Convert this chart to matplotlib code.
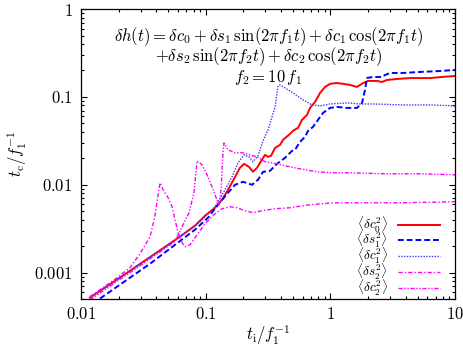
import matplotlib
matplotlib.use("Agg")
import matplotlib.pyplot as plt
from matplotlib.ticker import LogLocator, FixedLocator, FixedFormatter, NullFormatter

plt.rcParams['mathtext.fontset'] = 'cm'
plt.rcParams['font.family'] = ['DejaVu Serif']

# <δc0^2>
c0_x = [0.0118, 0.0247, 0.0622, 0.0820, 0.0987, 0.1188, 0.1352, 0.151, 0.172, 0.188, 0.203, 0.2225,
        0.239, 0.258, 0.2725, 0.299, 0.316, 0.334, 0.360, 0.3945, 0.417, 0.4745, 0.50, 0.55, 0.592,
        0.649, 0.686, 0.753, 0.8255, 0.906, 0.993, 1.13, 1.26, 1.44, 1.63, 1.83, 2.0, 2.37, 2.59,
        2.84, 3.42, 4.35, 6.29, 8.0, 10.0]
c0_y = [0.00052, 0.00105, 0.00257, 0.00342, 0.00445, 0.00548, 0.00676, 0.00878, 0.0123, 0.0156,
        0.0173, 0.0160, 0.0141, 0.0156, 0.0178, 0.0219, 0.0208, 0.0214, 0.0263, 0.0285, 0.0325,
        0.0380, 0.0411, 0.0445, 0.0548, 0.0624, 0.0750, 0.0878, 0.111, 0.130, 0.141, 0.144, 0.141,
        0.137, 0.130, 0.144, 0.152, 0.152, 0.148, 0.156, 0.160, 0.164, 0.164, 0.169, 0.173]

# <δs1^2>
s1_x = [0.0142, 0.0358, 0.0820, 0.1043, 0.1255, 0.151, 0.1718, 0.1991, 0.2351, 0.2626, 0.2882,
        0.3278, 0.373, 0.4325, 0.4921, 0.5202, 0.5703, 0.6254, 0.6611, 0.725, 0.7954, 0.8722,
        0.993, 1.13, 1.359, 1.634, 1.792, 1.894, 1.965, 2.196, 2.594, 2.742, 3.007, 3.821, 5.233,
        7.568, 10.0]
s1_y = [0.000507, 0.001265, 0.003082, 0.004217, 0.005928, 0.008115, 0.01, 0.01082, 0.01, 0.01141,
        0.01405, 0.01442, 0.01733, 0.02027, 0.02434, 0.0250, 0.03083, 0.0351, 0.0411, 0.04561,
        0.05483, 0.0658, 0.075, 0.077, 0.075, 0.075, 0.0855, 0.1202, 0.1644, 0.1687, 0.1687,
        0.1778, 0.1874, 0.1874, 0.1924, 0.1974, 0.2026]

# <δc1^2>
c1_x = [0.0118, 0.0247, 0.0622, 0.0900, 0.1188, 0.1428, 0.1625, 0.1815, 0.2029, 0.2225, 0.2394,
        0.2626, 0.2882, 0.316, 0.340, 0.360, 0.373, 0.380, 0.3945, 0.4325, 0.5015, 0.603, 0.712,
        0.8255, 0.993, 1.359, 1.727, 2.196, 3.821, 6.291, 10.0]
c1_y = [0.00052, 0.00105, 0.00257, 0.0038, 0.00562, 0.00878, 0.0123, 0.0178, 0.0219, 0.0208,
        0.0183, 0.0214, 0.0316, 0.0422, 0.0593, 0.077, 0.111, 0.1334, 0.1369, 0.1266, 0.111,
        0.0925, 0.0811, 0.079, 0.0832, 0.0855, 0.0832, 0.0832, 0.0811, 0.0811, 0.079]

# <δs2^2>
s2_x = [0.0118, 0.0181, 0.0247, 0.0297, 0.0358, 0.0392, 0.0414, 0.0430, 0.0455, 0.0499, 0.0537,
        0.0567, 0.0600, 0.0646, 0.0682, 0.0748, 0.0820, 0.0987, 0.1188, 0.1352, 0.1566, 0.1782,
        0.2065, 0.2394, 0.2827, 0.3597, 0.4745, 0.6859, 1.049, 1.436, 3.606, 10.0]
s2_y = [0.000534, 0.000811, 0.00114, 0.00164, 0.00257, 0.00445, 0.0075, 0.01054, 0.00878, 0.00712,
        0.00562, 0.0040, 0.00285, 0.00219, 0.00197, 0.00208, 0.0025, 0.00361, 0.00468, 0.00534,
        0.00562, 0.00548, 0.00507, 0.00481, 0.00507, 0.00534, 0.00548, 0.00593, 0.00624, 0.00624,
        0.00624, 0.00641]

# <δc2^2>
c2_x = [0.0118, 0.0247, 0.0567, 0.0646, 0.0735, 0.0805, 0.0852, 0.0934, 0.1024, 0.1123, 0.1188,
        0.1278, 0.1327, 0.1352, 0.1377, 0.1402, 0.151, 0.1718, 0.1991, 0.2266, 0.2577, 0.299,
        0.373, 0.4745, 0.5703, 0.7808, 1.049, 1.436, 2.844, 5.233, 10.0]
c2_y = [0.00049, 0.00100, 0.00226, 0.00333, 0.00481, 0.00812, 0.01874, 0.01688, 0.0130, 0.00949,
        0.00769, 0.00577, 0.00878, 0.0148, 0.0237, 0.0300, 0.0250, 0.0231, 0.0231, 0.0219, 0.0208,
        0.0183, 0.0173, 0.0160, 0.0152, 0.01405, 0.01369, 0.01369, 0.01334, 0.01334, 0.0130]

labels = [r'$\langle\delta c_0^2\rangle$', r'$\langle\delta s_1^2\rangle$',
          r'$\langle\delta c_1^2\rangle$', r'$\langle\delta s_2^2\rangle$',
          r'$\langle\delta c_2^2\rangle$']
xticks = [0.01, 0.1, 1, 10]
xticklabels = ['$0.01$', '$0.1$', '$1$', '$10$']
yticks = [0.001, 0.01, 0.1, 1]
yticklabels = ['$0.001$', '$0.01$', '$0.1$', '$1$']

fig = plt.figure(figsize=(4.63, 3.49), dpi=100)
ax = fig.add_axes([0.175, 0.143, 0.808, 0.831])

ax.plot(c0_x, c0_y, color='#ff0000', lw=1.4, ls='-', label=labels[0])
ax.plot(s1_x, s1_y, color='#0000ff', lw=1.4, ls=(0, (3, 1.5)), label=labels[1])
ax.plot(c1_x, c1_y, color='#3a3aff', lw=1.0, ls=(0, (1, 1)), label=labels[2])
ax.plot(s2_x, s2_y, color='#ff00ff', lw=1.0, ls=(0, (3, 1.5, 1, 1.5)), label=labels[3])
ax.plot(c2_x, c2_y, color='#ff00ff', lw=1.0, ls=(0, (3, 1.2, 1, 1.2, 1, 1.2)), label=labels[4])

ax.set_xscale('log')
ax.set_yscale('log')
ax.set_xlim(0.01, 10)
ax.set_ylim(5e-4, 1)

ax.xaxis.set_major_locator(FixedLocator(xticks))
ax.xaxis.set_major_formatter(FixedFormatter(xticklabels))
ax.yaxis.set_major_locator(FixedLocator(yticks))
ax.yaxis.set_major_formatter(FixedFormatter(yticklabels))
ax.xaxis.set_minor_locator(LogLocator(base=10, subs=range(2, 10)))
ax.yaxis.set_minor_locator(LogLocator(base=10, subs=range(2, 10)))
ax.xaxis.set_minor_formatter(NullFormatter())
ax.yaxis.set_minor_formatter(NullFormatter())
ax.tick_params(which='both', direction='in', top=True, right=True, labelsize=12, width=0.8)
ax.tick_params(axis='x', which='major', length=4.5, pad=5)
ax.tick_params(axis='y', which='major', length=4.5, pad=6)
ax.tick_params(which='minor', length=2.5)
for s in ax.spines.values():
    s.set_linewidth(0.9)

ax.set_xlabel(r'$t_\mathrm{i}/f_1^{-1}$', fontsize=12, labelpad=0)
ax.set_ylabel(r'$t_\mathrm{c}/f_1^{-1}$', fontsize=12, labelpad=4)

ax.text(0.5, 0.905, r'$\delta h(t) = \delta c_0 + \delta s_1\,\sin(2\pi f_1 t) + \delta c_1\,\cos(2\pi f_1 t)$',
        transform=ax.transAxes, ha='center', va='center', fontsize=12)
ax.text(0.5, 0.835, r'$+\delta s_2\,\sin(2\pi f_2 t) + \delta c_2\,\cos(2\pi f_2 t)$',
        transform=ax.transAxes, ha='center', va='center', fontsize=12)
ax.text(0.5, 0.765, r'$f_2 = 10\,f_1$',
        transform=ax.transAxes, ha='center', va='center', fontsize=12)

leg = ax.legend(loc='lower right', markerfirst=False, frameon=False, fontsize=9.5,
                handlelength=3.2, labelspacing=-0.33, borderaxespad=0.0, handletextpad=0.8,
                bbox_to_anchor=(0.975, -0.015))

fig.savefig('out.png', dpi=100)
